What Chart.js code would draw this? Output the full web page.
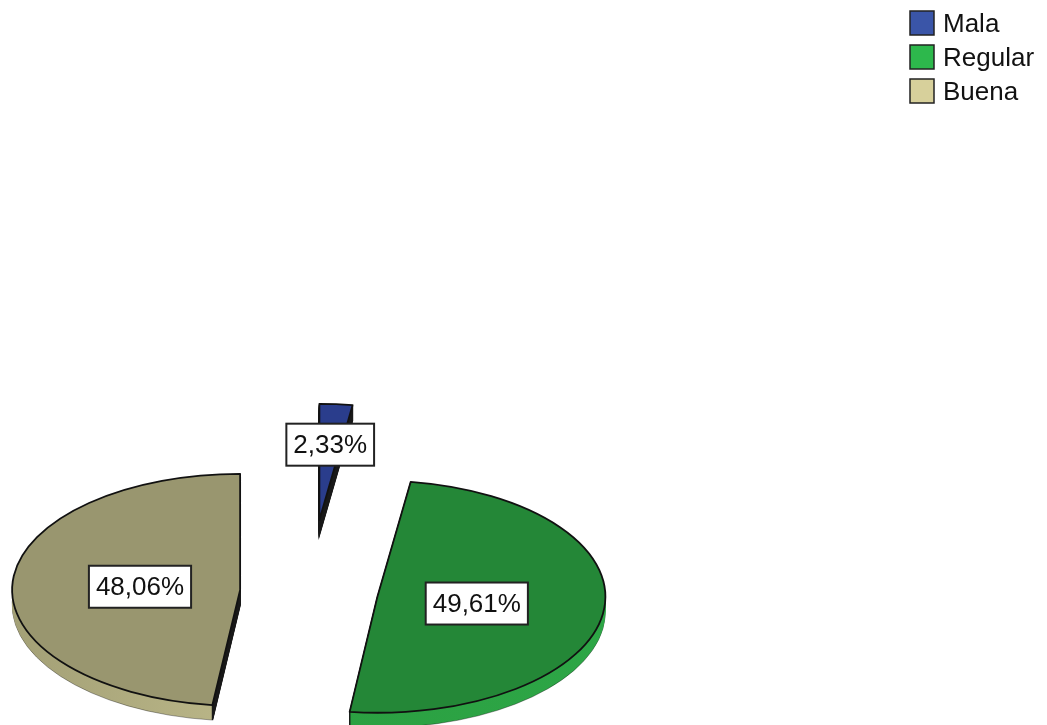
<!DOCTYPE html>
<html>
<head>
<meta charset="utf-8">
<script src="https://cdn.jsdelivr.net/npm/chart.js@4.4.1/dist/chart.umd.min.js"></script>
<style>
  html, body { margin: 0; padding: 0; background: #fff; overflow: hidden; }
  #wrap { width: 1047px; height: 725px; overflow: hidden; position: relative; }
  /* canvas is taller than the window: SPSS cut the pie off at the bottom */
  #box { position: absolute; left: 0; top: 0; width: 1047px; height: 1184px; }
</style>
</head>
<body>
<div id="wrap"><div id="box"><canvas id="c"></canvas></div></div>
<script>
var categories = ['Mala', 'Regular', 'Buena'];
var percents = [2.33, 49.61, 48.06];

var topColors = ['#2A3D8C', '#248737', '#99966F'];
var sideColors = [['#16245E', '#1C2C6A'], ['#2A9C3F', '#2DA646'], ['#A3A076', '#D2CD9A']];
var legendColors = ['#3A55A8', '#2DB84C', '#D7D09B'];

function pctText(v) {
  return v.toFixed(2).replace('.', ',') + '%';
}

function slicePath(ctx, cx, cy, rx, ry, a0, a1) {
  ctx.beginPath();
  ctx.moveTo(cx, cy);
  ctx.ellipse(cx, cy, rx, ry, 0, a0, a1);
  ctx.closePath();
}

// geometry of a slice after tilting and exploding it
function sliceGeom(el, i, opts) {
  var p = el.getProps(['x', 'y', 'startAngle', 'endAngle', 'outerRadius'], true);
  var mid = (p.startAngle + p.endAngle) / 2;
  var d = opts.explode[i];
  return {
    cx: p.x + Math.cos(mid) * d,
    cy: p.y + Math.sin(mid) * d * opts.tilt,
    rx: p.outerRadius,
    ry: p.outerRadius * opts.tilt,
    a0: p.startAngle,
    a1: p.endAngle,
    mid: mid
  };
}

var pie3d = {
  id: 'pie3d',
  beforeDatasetsDraw: function(chart, args, opts) {
    var ctx = chart.ctx;
    var meta = chart.getDatasetMeta(0);
    meta.data.forEach(function(el, i) {
      var g = sliceGeom(el, i, opts);
      ctx.save();
      var grad = ctx.createLinearGradient(g.cx - g.rx, 0, g.cx + g.rx, 0);
      grad.addColorStop(0, sideColors[i][0]);
      grad.addColorStop(1, sideColors[i][1]);
      // side wall, stacked downward
      for (var j = opts.depth; j >= 1; j--) {
        var y = g.cy + j;
        slicePath(ctx, g.cx, y, g.rx, g.ry, g.a0, g.a1);
        ctx.fillStyle = grad;
        ctx.fill();
        if (j === opts.depth) {
          ctx.strokeStyle = 'rgba(0,0,0,0.35)';
          ctx.lineWidth = 1;
          ctx.stroke();
        }
        // cut faces are dark
        ctx.beginPath();
        ctx.moveTo(g.cx + g.rx * Math.cos(g.a0), y + g.ry * Math.sin(g.a0));
        ctx.lineTo(g.cx, y);
        ctx.lineTo(g.cx + g.rx * Math.cos(g.a1), y + g.ry * Math.sin(g.a1));
        ctx.strokeStyle = '#1a1a1a';
        ctx.lineWidth = 1.5;
        ctx.stroke();
      }
      // top face
      slicePath(ctx, g.cx, g.cy, g.rx, g.ry, g.a0, g.a1);
      ctx.fillStyle = topColors[i];
      ctx.fill();
      ctx.strokeStyle = '#111';
      ctx.lineWidth = 1.8;
      ctx.lineJoin = 'round';
      ctx.stroke();
      ctx.restore();
    });
    return false;
  },
  // percent boxes (afterDatasetsDraw is skipped once the draw is cancelled)
  afterDraw: function(chart, args, opts) {
    var ctx = chart.ctx;
    var meta = chart.getDatasetMeta(0);
    ctx.save();
    ctx.font = '26px "Liberation Sans", Arial, sans-serif';
    ctx.textAlign = 'center';
    ctx.textBaseline = 'middle';
    meta.data.forEach(function(el, i) {
      var g = sliceGeom(el, i, opts);
      var f = opts.labelPos[i] * g.rx;
      var lx = g.cx + Math.cos(g.mid) * f;
      var ly = g.cy + Math.sin(g.mid) * f * opts.tilt;
      var txt = pctText(chart.data.datasets[0].data[i]);
      var w = ctx.measureText(txt).width + 14;
      var h = 42;
      ctx.fillStyle = '#fff';
      ctx.fillRect(lx - w / 2, ly - h / 2, w, h);
      ctx.strokeStyle = '#222';
      ctx.lineWidth = 2;
      ctx.strokeRect(lx - w / 2, ly - h / 2, w, h);
      ctx.fillStyle = '#111';
      ctx.fillText(txt, lx, ly + 1);
    });
    ctx.restore();
  }
};

var legendBox = {
  id: 'legendBox',
  afterDraw: function(chart, args, opts) {
    var ctx = chart.ctx;
    ctx.save();
    ctx.font = '26px "Liberation Sans", Arial, sans-serif';
    ctx.textBaseline = 'middle';
    chart.data.labels.forEach(function(lab, i) {
      var y = opts.top + i * opts.step;
      ctx.fillStyle = legendColors[i];
      ctx.fillRect(opts.x, y, 24, 24);
      ctx.strokeStyle = '#222';
      ctx.lineWidth = 1.5;
      ctx.strokeRect(opts.x, y, 24, 24);
      ctx.fillStyle = '#111';
      ctx.fillText(lab, opts.x + 33, y + 14);
    });
    ctx.restore();
  }
};

new Chart(document.getElementById('c'), {
  type: 'pie',
  data: {
    labels: categories,
    datasets: [{
      data: percents,
      backgroundColor: topColors,
      borderColor: '#111',
      borderWidth: 1.8
    }]
  },
  options: {
    responsive: true,
    maintainAspectRatio: false,
    animation: false,
    radius: 228,
    rotation: 0,
    layout: { padding: { right: 429 } },
    plugins: {
      legend: { display: false },
      tooltip: { enabled: false },
      pie3d: { tilt: 0.509, depth: 15, explode: [142, 69, 69], labelPos: [0.65, 0.44, 0.44] },
      legendBox: { x: 910, top: 11, step: 34 }
    }
  },
  plugins: [pie3d, legendBox]
});
</script>
</body>
</html>
